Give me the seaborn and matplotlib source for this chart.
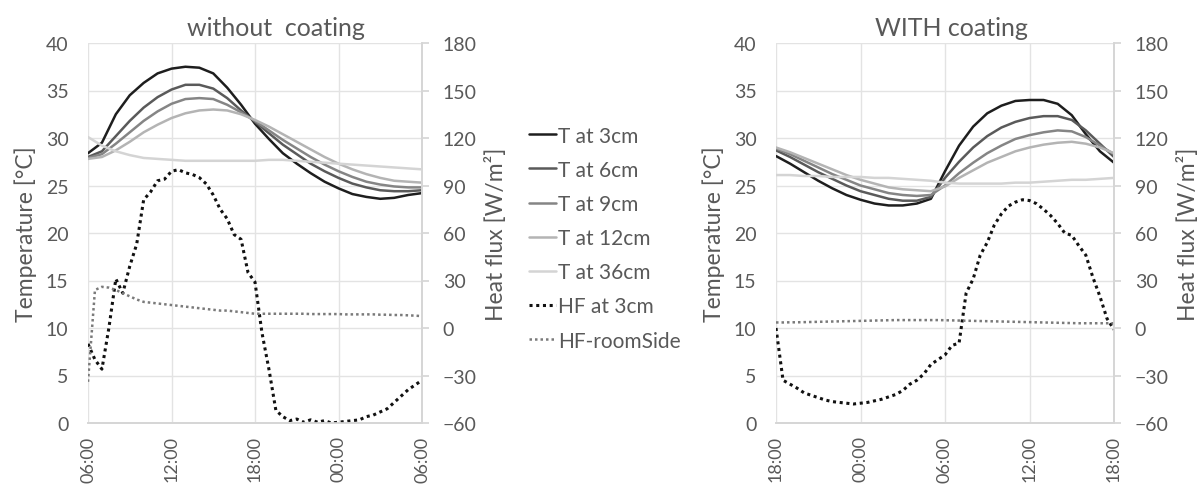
"""
Wall temperatures and heat flux over one day, without and with coating.
"""

import numpy as np
import matplotlib.pyplot as plt
import seaborn as sns

# --- Data ---
hours_t = list(range(25))                 # hourly samples for temperatures
hours_hf = list(np.arange(0, 24.5, 0.5))  # half-hour samples for heat flux

# left panel: starts 06:00
left_ticks = ["06:00", "12:00", "18:00", "00:00", "06:00"]
left_t3 = [28.4, 29.5, 32.5, 34.5, 35.8, 36.8, 37.3, 37.5, 37.4, 36.8, 35.3, 33.5, 31.5,
           29.9, 28.4, 27.3, 26.3, 25.4, 24.7, 24.1, 23.8, 23.6, 23.7, 24.0, 24.2]
left_t6 = [28.0, 28.6, 30.2, 31.8, 33.2, 34.3, 35.1, 35.6, 35.6, 35.2, 34.2, 32.9, 31.7,
           30.5, 29.3, 28.3, 27.3, 26.5, 25.8, 25.2, 24.8, 24.5, 24.4, 24.4, 24.5]
left_t9 = [27.9, 28.3, 29.4, 30.6, 31.8, 32.8, 33.6, 34.1, 34.2, 34.1, 33.5, 32.7, 31.8,
           30.8, 29.8, 28.9, 28.0, 27.2, 26.5, 25.9, 25.4, 25.1, 24.9, 24.8, 24.8]
left_t12 = [27.8, 28.0, 28.7, 29.6, 30.6, 31.4, 32.1, 32.6, 32.9, 33.0, 32.9, 32.5, 31.9,
            31.2, 30.4, 29.6, 28.8, 28.0, 27.3, 26.7, 26.2, 25.8, 25.5, 25.4, 25.3]
left_t36 = [30.1, 29.2, 28.6, 28.2, 27.9, 27.8, 27.7, 27.6, 27.6, 27.6, 27.6, 27.6, 27.6,
            27.7, 27.7, 27.6, 27.5, 27.4, 27.3, 27.2, 27.1, 27.0, 26.9, 26.8, 26.7]
left_hf3 = [-10, -20, -26, 0, 31, 22, 39, 53, 81, 86, 93, 94, 99, 100, 98, 97, 95, 91, 84,
            75, 69, 59, 56, 35, 29, -3, -26, -52, -56, -58.5, -57.5, -59.5, -58, -59.5,
            -58.5, -60, -59.5, -59, -58.5, -58, -56, -55, -53, -51, -47, -43, -39, -36, -33]
left_hf_room = [-34, 24, 26, 25.5, 24, 22, 20, 18, 16.5, 16, 15.5, 15, 14.5, 14, 13.5, 13,
                12.5, 12, 11.5, 11, 11, 10.5, 10, 9.5, 9, 9, 9, 9, 9, 9, 9, 9, 8.8, 8.8,
                8.8, 8.8, 8.8, 8.6, 8.6, 8.6, 8.6, 8.6, 8.4, 8.4, 8.2, 8.2, 8.0, 7.8, 7.5]

# right panel: starts 18:00
right_ticks = ["18:00", "00:00", "06:00", "12:00", "18:00"]
right_t3 = [28.1, 27.3, 26.4, 25.5, 24.7, 24.0, 23.5, 23.1, 22.9, 22.9, 23.1, 23.6, 26.5,
            29.2, 31.2, 32.6, 33.4, 33.9, 34.0, 34.0, 33.6, 32.4, 30.4, 28.6, 27.4]
right_t6 = [28.7, 28.0, 27.2, 26.4, 25.7, 25.0, 24.4, 24.0, 23.6, 23.4, 23.4, 23.8, 25.8,
            27.5, 29.0, 30.2, 31.1, 31.7, 32.1, 32.3, 32.3, 31.9, 30.8, 29.4, 28.0]
right_t9 = [28.9, 28.3, 27.6, 26.9, 26.2, 25.6, 25.0, 24.6, 24.2, 24.0, 23.9, 24.0, 25.0,
            26.3, 27.4, 28.4, 29.2, 29.9, 30.3, 30.6, 30.8, 30.7, 30.1, 29.2, 28.3]
right_t12 = [29.0, 28.5, 27.9, 27.3, 26.7, 26.1, 25.6, 25.2, 24.8, 24.6, 24.5, 24.4, 24.9,
             25.8, 26.6, 27.4, 28.0, 28.6, 29.0, 29.3, 29.5, 29.6, 29.4, 29.0, 28.4]
right_t36 = [26.1, 26.1, 26.0, 26.0, 25.9, 25.9, 25.9, 25.8, 25.8, 25.7, 25.6, 25.5, 25.3,
             25.2, 25.2, 25.2, 25.2, 25.3, 25.3, 25.4, 25.5, 25.6, 25.6, 25.7, 25.8]
right_hf3 = [0, -33, -35.5, -38, -41, -42.5, -44, -45.5, -46.5, -47, -47.5, -48, -47.5, -47,
             -46, -45, -43.5, -42, -39.5, -35.5, -33, -29, -23, -20, -17, -11, -9.5, 22, 31,
             46, 54, 65, 72, 77, 79.5, 81, 80.5, 78.5, 75, 71, 66, 60, 58.5, 52, 46, 32, 20,
             6, -1]
right_hf_room = [3.5, 3.5, 3.6, 3.6, 3.7, 3.8, 3.9, 4.0, 4.1, 4.2, 4.3, 4.4, 4.5, 4.6, 4.7,
                 4.8, 4.9, 5.0, 5.0, 5.0, 5.0, 5.0, 5.0, 5.0, 4.9, 4.8, 4.7, 4.6, 4.5, 4.4,
                 4.3, 4.2, 4.1, 4.0, 3.9, 3.8, 3.7, 3.6, 3.5, 3.4, 3.3, 3.2, 3.1, 3.0, 3.0,
                 3.0, 3.0, 3.0, 3.0]

# --- Style ---
sns.set_theme(style="white")
plt.rcParams["font.family"] = ["Lato", "DejaVu Sans"]
TEXT = "#595959"
GRID = "#e3e3e3"
t_colors = ["#1e1e1e", "#5a5a5a", "#858585", "#b4b4b4", "#d4d4d4"]
t_names = ["T at 3cm", "T at 6cm", "T at 9cm", "T at 12cm", "T at 36cm"]
DOT = (0, (1, 1.2))

fig = plt.figure(figsize=(11.98, 4.85), dpi=100)
ax_l = fig.add_axes([88 / 1198, 61 / 485, 334 / 1198, 380 / 485])
ax_r = fig.add_axes([776 / 1198, 61 / 485, 338 / 1198, 380 / 485])


def draw_panel(ax, title, title_x, ticks, temps, hf3, hf_room):
    for vals, col in zip(temps, t_colors):
        sns.lineplot(x=hours_t, y=vals, ax=ax, color=col, lw=1.8)
    ax.set_xlim(0, 24)
    ax.set_ylim(0, 40)
    ax.set_yticks(range(0, 41, 5))
    ax.set_xticks([0, 6, 12, 18, 24])
    ax.set_xticklabels(ticks, rotation=90)
    ax.grid(True, color=GRID, lw=1)
    ax.set_axisbelow(True)
    ax.set_title(title, color=TEXT, fontsize=18, pad=6, x=title_x)
    ax.set_ylabel("Temperature [°C]", color=TEXT, fontsize=16.5, labelpad=6)
    ax.tick_params(axis="y", colors=TEXT, labelsize=14, length=0, pad=14)
    ax.tick_params(axis="x", colors=TEXT, labelsize=13, length=0, pad=9)

    ax2 = ax.twinx()
    sns.lineplot(x=hours_hf, y=hf3, ax=ax2, color="#111111", lw=2.2, linestyle=DOT)
    sns.lineplot(x=hours_hf, y=hf_room, ax=ax2, color="#7a7a7a", lw=1.8, linestyle=DOT)
    ax2.set_ylim(-60, 180)
    ax2.set_yticks(range(-60, 181, 30))
    ax2.set_ylabel("Heat flux [W/m²]", color=TEXT, fontsize=16.5, labelpad=6)
    ax2.tick_params(labelcolor=TEXT, color="#d6d6d6", labelsize=14, length=5, pad=10)

    for a in (ax, ax2):
        for side in ["top", "left"]:
            a.spines[side].set_visible(False)
        a.spines["bottom"].set_color("#d6d6d6")
        a.spines["right"].set_color("#d6d6d6")


draw_panel(ax_l, "without  coating", 0.563, left_ticks,
           [left_t3, left_t6, left_t9, left_t12, left_t36], left_hf3, left_hf_room)
draw_panel(ax_r, "WITH coating", 0.52, right_ticks,
           [right_t3, right_t6, right_t9, right_t12, right_t36], right_hf3, right_hf_room)

# legend sits between the two panels
handles = [plt.Line2D([], [], color=c, lw=1.8) for c in t_colors]
handles += [plt.Line2D([], [], color="#111111", lw=2.2, linestyle=DOT),
            plt.Line2D([], [], color="#7a7a7a", lw=1.8, linestyle=DOT)]
labels = t_names + ["HF at 3cm", "HF-roomSide"]
fig.legend(handles, labels, loc="center left", bbox_to_anchor=(510 / 1198, 0.507),
           frameon=False, fontsize=15, labelcolor=TEXT, handlelength=1.3,
           handletextpad=0.1, labelspacing=0.68)

fig.savefig("out.png", dpi=100)
